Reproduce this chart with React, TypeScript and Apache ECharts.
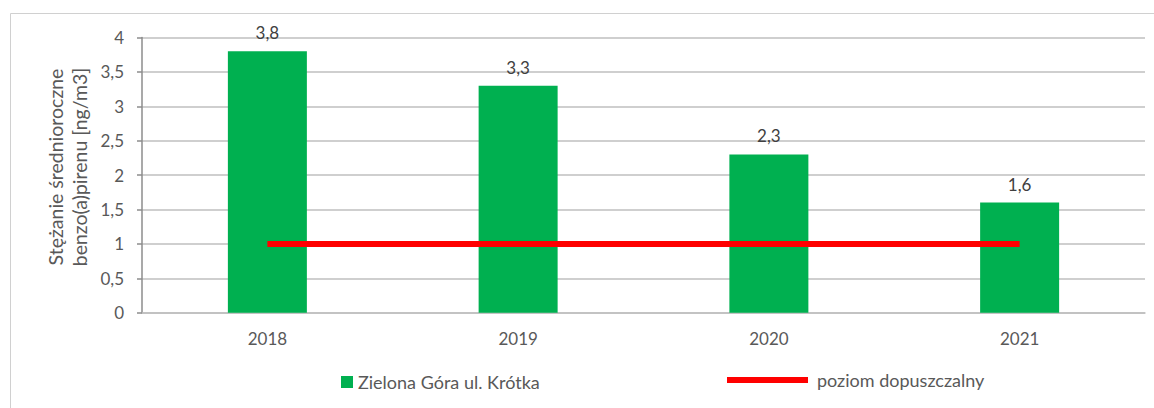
import React, { useEffect, useRef } from "react";
import * as echarts from "echarts";

const categories = ["2018", "2019", "2020", "2021"];
const stationValues = [3.8, 3.3, 2.3, 1.6];
const limitValues = [1, 1, 1, 1];
const yTicks = { min: 0, max: 4, interval: 0.5 };
const seriesNames = ["Zielona Góra ul. Krótka", "poziom dopuszczalny"];
const yAxisTitle = ["Stężanie średnioroczne", "benzo(a)pirenu [ng/m3]"];

const FONT = "Lato, 'Noto Sans', sans-serif";
const comma = (v: number) => String(v).replace(".", ",");

export default function App() {
  const ref = useRef<HTMLDivElement>(null);
  useEffect(() => {
    document.body.style.margin = "0";
    const chart = echarts.init(ref.current!, null, { renderer: "svg" });
    chart.setOption({
      animation: false,
      backgroundColor: "#ffffff",
      textStyle: { fontFamily: FONT },
      grid: { left: 142, right: 9, top: 37.5, bottom: 95.3, containLabel: false },
      graphic: [
        {
          type: "rect",
          shape: { x: 10.5, y: 13.5, width: 1160, height: 420 },
          style: { fill: "none", stroke: "#d0d0d0", lineWidth: 1 },
          silent: true,
        },
        {
          type: "text",
          x: 67,
          y: 167,
          rotation: Math.PI / 2,
          style: {
            text: yAxisTitle.join("\n"),
            font: `19.5px ${FONT}`,
            fill: "#595959",
            align: "center",
            verticalAlign: "middle",
            lineHeight: 24,
          },
        },
      ],
      legend: [
        {
          data: [seriesNames[0]],
          left: 336,
          top: 368,
          icon: "rect",
          itemWidth: 12,
          itemHeight: 12,
          textStyle: { color: "#595959", fontSize: 18, fontFamily: FONT },
        },
        {
          data: [seriesNames[1]],
          left: 722,
          top: 366,
          icon: "rect",
          itemWidth: 81,
          itemHeight: 6,
          textStyle: { color: "#595959", fontSize: 18, fontFamily: FONT, padding: [0, 0, 0, 4] },
        },
      ],
      xAxis: {
        type: "category",
        data: categories,
        boundaryGap: true,
        axisLine: { show: true, lineStyle: { color: "#bfbfbf", width: 1.5 } },
        axisTick: { show: false },
        axisLabel: { color: "#595959", fontSize: 17, fontFamily: FONT, margin: 17 },
        splitLine: { show: false },
      },
      yAxis: {
        type: "value",
        min: yTicks.min,
        max: yTicks.max,
        interval: yTicks.interval,
        axisLine: { show: true, lineStyle: { color: "#8c8c8c", width: 1.5 } },
        axisTick: { show: true, length: 5, lineStyle: { color: "#8c8c8c", width: 1.5 } },
        axisLabel: {
          color: "#595959",
          fontSize: 17,
          fontFamily: FONT,
          margin: 18,
          formatter: (v: number) => comma(v),
        },
        splitLine: { show: true, lineStyle: { color: "#bfbfbf", width: 1.5 } },
      },
      series: [
        {
          name: seriesNames[0],
          type: "bar",
          data: stationValues,
          barWidth: 79,
          itemStyle: { color: "#00B050" },
          label: {
            show: true,
            position: "top",
            distance: 10,
            color: "#404040",
            fontSize: 17,
            fontFamily: FONT,
            formatter: (p: any) => comma(p.value),
          },
          z: 2,
        },
        {
          name: seriesNames[1],
          type: "line",
          data: limitValues,
          symbol: "none",
          lineStyle: { color: "#FF0000", width: 6 },
          itemStyle: { color: "#FF0000" },
          z: 3,
        },
      ],
    });
    return () => chart.dispose();
  }, []);
  return <div ref={ref} style={{ width: 1154, height: 408 }} />;
}
